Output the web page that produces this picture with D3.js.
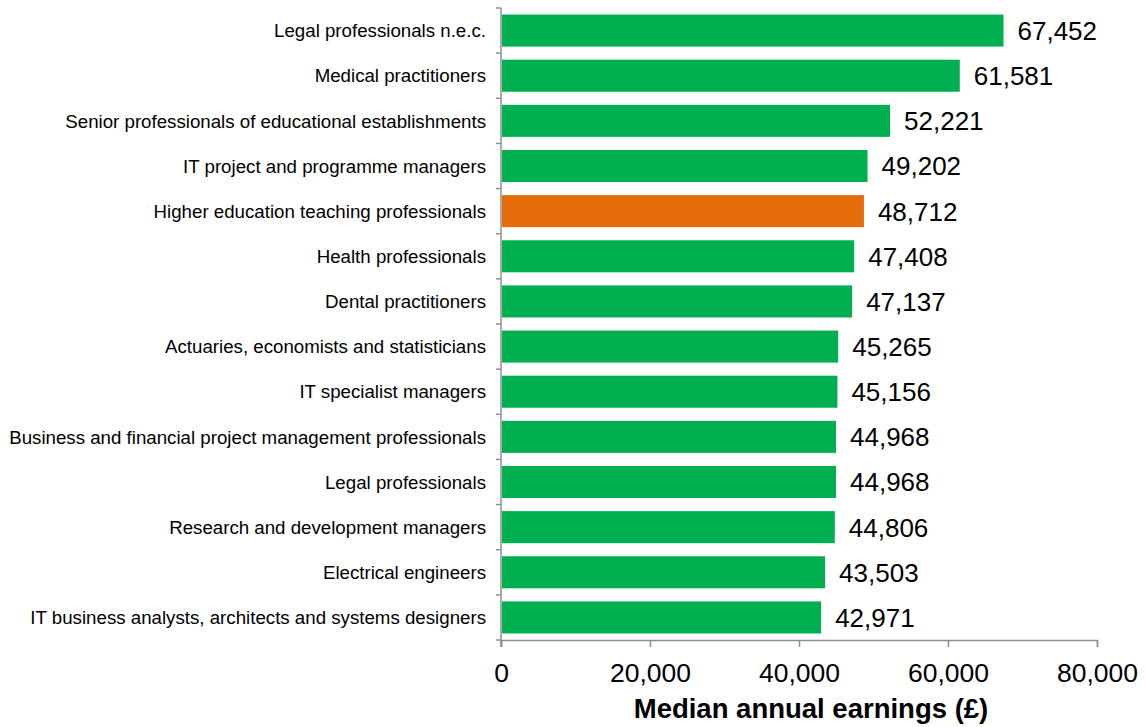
<!DOCTYPE html>
<html>
<head>
<meta charset="utf-8">
<script src="https://cdn.jsdelivr.net/npm/d3@7"></script>
<style>
  body { margin: 0; background: #fff; }
  svg { display: block; font-family: Arial, "Liberation Sans", sans-serif; }
</style>
</head>
<body>
<svg id="chart"></svg>
<script>
// Occupations, top to bottom
const occupations = [
    "Legal professionals n.e.c.",
    "Medical practitioners",
    "Senior professionals of educational establishments",
    "IT project and programme managers",
    "Higher education teaching professionals",
    "Health professionals",
    "Dental practitioners",
    "Actuaries, economists and statisticians",
    "IT specialist managers",
    "Business and financial project management professionals",
    "Legal professionals",
    "Research and development managers",
    "Electrical engineers",
    "IT business analysts, architects and systems designers"
];
const earnings = [67452, 61581, 52221, 49202, 48712, 47408, 47137, 45265, 45156, 44968, 44968, 44806, 43503, 42971];
const highlighted = ["Higher education teaching professionals"];
const xTicks = [0, 20000, 40000, 60000, 80000];

function drawChart() {
    var svgWidth = 1145;
    var svgHeight = 727;
    var padding = {t: 8, r: 48, b: 87, l: 501};
    var chartWidth = svgWidth - padding.l - padding.r;
    var chartHeight = svgHeight - padding.t - padding.b;

    const data = occupations.map((name, i) => ({name: name, value: earnings[i]}));

    const svg = d3.select('#chart')
        .attr('width', svgWidth)
        .attr('height', svgHeight);

    var chartG = svg.append('g')
        .attr('transform', 'translate(' + [padding.l, padding.t] + ')');

    var xScale = d3.scaleLinear()
        .domain([0, 80000])
        .range([0, chartWidth]);

    var yScale = d3.scaleBand()
        .domain(occupations)
        .range([0, chartHeight])
        .paddingInner(0.29)
        .paddingOuter(0.145);

    const axisColor = '#8f8f8f';
    const step = yScale.step();

    // Bars
    chartG.selectAll('.bar')
        .data(data)
        .enter()
        .append('rect')
        .attr('class', 'bar')
        .attr('x', 1)
        .attr('y', d => yScale(d.name))
        .attr('width', d => xScale(d.value) - 1)
        .attr('height', yScale.bandwidth())
        .attr('fill', d => highlighted.includes(d.name) ? '#E46C0A' : '#00B050');

    // Value labels
    chartG.selectAll('.bar-label')
        .data(data)
        .enter()
        .append('text')
        .attr('class', 'bar-label')
        .attr('x', d => xScale(d.value) + 14)
        .attr('y', d => yScale(d.name) + yScale.bandwidth() / 2)
        .attr('dy', '0.36em')
        .attr('font-size', '26px')
        .attr('fill', '#000')
        .text(d => d3.format(',')(d.value));

    // Category labels
    chartG.selectAll('.cat-label')
        .data(data)
        .enter()
        .append('text')
        .attr('class', 'cat-label')
        .attr('x', -15)
        .attr('y', d => yScale(d.name) + yScale.bandwidth() / 2)
        .attr('dy', '0.36em')
        .attr('text-anchor', 'end')
        .attr('font-size', '18.7px')
        .attr('fill', '#000')
        .text(d => d.name);

    // Y axis line with ticks on band boundaries
    const yAxisG = chartG.append('g').attr('class', 'y axis');
    yAxisG.append('line')
        .attr('x1', 0).attr('x2', 0)
        .attr('y1', 0).attr('y2', chartHeight + 7)
        .attr('stroke', axisColor)
        .attr('stroke-width', 1.5);
    yAxisG.selectAll('.ytick')
        .data(d3.range(occupations.length + 1))
        .enter()
        .append('line')
        .attr('class', 'ytick')
        .attr('x1', -5).attr('x2', 0)
        .attr('y1', i => i * step)
        .attr('y2', i => i * step)
        .attr('stroke', axisColor)
        .attr('stroke-width', 1.5);

    // X axis
    const xAxisG = chartG.append('g')
        .attr('class', 'x axis')
        .attr('transform', 'translate(' + [0, chartHeight] + ')')
        .call(d3.axisBottom(xScale)
            .tickValues(xTicks)
            .tickFormat(d3.format(','))
            .tickSizeInner(7)
            .tickSizeOuter(7)
            .tickPadding(16));
    xAxisG.select('.domain').attr('stroke', axisColor).attr('stroke-width', 1.5);
    xAxisG.selectAll('.tick line').attr('stroke', axisColor).attr('stroke-width', 1.5);
    xAxisG.selectAll('.tick text')
        .attr('font-size', '26.5px')
        .attr('font-family', 'Arial, "Liberation Sans", sans-serif')
        .attr('fill', '#000');

    // Axis title
    chartG.append('text')
        .attr('class', 'x axis-label')
        .attr('x', chartWidth / 2 + 12)
        .attr('y', chartHeight + 78)
        .attr('text-anchor', 'middle')
        .attr('font-size', '27.5px')
        .attr('font-weight', 'bold')
        .attr('fill', '#000')
        .text('Median annual earnings (£)');
}

drawChart();
</script>
</body>
</html>
